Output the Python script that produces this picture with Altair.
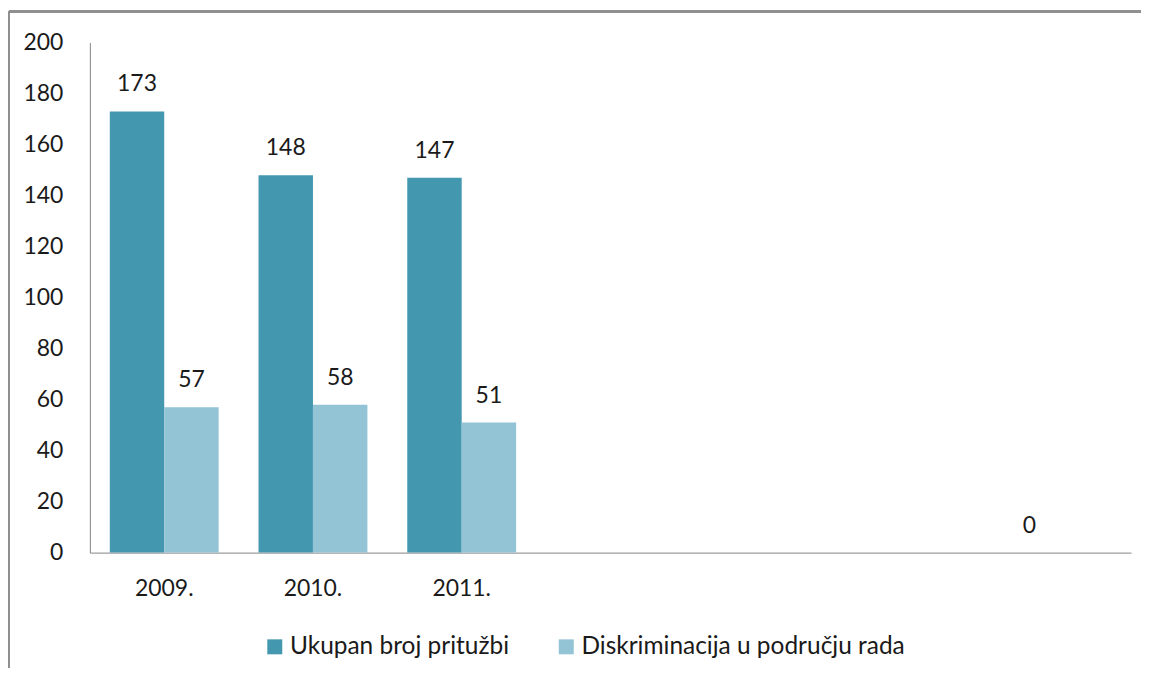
import altair as alt
import pandas as pd

# ---- data ----
categories = ["2009.", "2010.", "2011.", "c4", "c5", "c6", "c7"]
category_labels = ["2009.", "2010.", "2011.", "", "", "", ""]
series_names = ["Ukupan broj pritužbi", "Diskriminacija u području rada"]
ukupan = [173, 148, 147, None, None, None, 0]
diskriminacija = [57, 58, 51, None, None, None, None]
y_ticks = [0, 20, 40, 60, 80, 100, 120, 140, 160, 180, 200]
colors = ["#4398AF", "#93C4D5"]

rows = []
for cat, u, d in zip(categories, ukupan, diskriminacija):
    if u is not None:
        rows.append({"cat": cat, "series": series_names[0], "value": u})
    if d is not None:
        rows.append({"cat": cat, "series": series_names[1], "value": d})
df = pd.DataFrame(rows)

FONT = "Lato"
FS = 23
LFS = 24.5
W, H = 1043, 511

label_map = "{" + ",".join(f"'{c}':'{l}'" for c, l in zip(categories, category_labels)) + "}"
xscale = alt.Scale(domain=categories, paddingInner=0.268, paddingOuter=0.134)

x_enc = alt.X(
    "cat:N",
    sort=categories,
    scale=xscale,
    axis=alt.Axis(
        title=None,
        labelExpr=f"{label_map}[datum.value]",
        labelAngle=0,
        ticks=False,
        tickSize=0,
        labelPadding=25,
        domainColor="#868686",
        labelFont=FONT,
        labelFontSize=FS,
        labelColor="#1a1a1a",
        grid=False,
    ),
)
xoff = alt.XOffset("series:N", scale=alt.Scale(domain=series_names, paddingInner=0, paddingOuter=0))
y_enc = alt.Y(
    "value:Q",
    scale=alt.Scale(domain=[0, 200], nice=False),
    axis=alt.Axis(
        title=None,
        values=y_ticks,
        ticks=False,
        tickSize=0,
        labelPadding=27,
        domainColor="#868686",
        labelFont=FONT,
        labelFontSize=FS,
        labelColor="#1a1a1a",
        grid=False,
    ),
)

bars = alt.Chart(df).mark_bar().encode(
    x=x_enc,
    xOffset=xoff,
    y=y_enc,
    color=alt.Color(
        "series:N",
        scale=alt.Scale(domain=series_names, range=colors),
        legend=alt.Legend(
            title=None,
            orient="none",
            legendX=173,
            legendY=593,
            direction="horizontal",
            symbolType="square",
            symbolSize=225,
            symbolStrokeWidth=0,
            labelFont=FONT,
            labelFontSize=LFS,
            labelColor="#1a1a1a",
            labelOffset=3,
            columnPadding=44,
            labelLimit=600,
        ),
    ),
)

labels = alt.Chart(df).mark_text(
    font=FONT, fontSize=FS, color="#1a1a1a", baseline="alphabetic", dy=-20
).encode(
    x=alt.X("cat:N", sort=categories, scale=xscale),
    xOffset=xoff,
    y=alt.Y("value:Q"),
    text=alt.Text("value:Q"),
)

# outer chart frame (top and left edges, as in the cropped reference)
frame_top = alt.Chart(df).mark_rule(color="#8f8f8f", strokeWidth=2).encode(
    x=alt.value(-81), x2=alt.value(1100), y=alt.value(-31)
)
frame_left = alt.Chart(df).mark_rule(color="#8f8f8f", strokeWidth=2).encode(
    x=alt.value(-81), y=alt.value(-31), y2=alt.value(700)
)

chart = (
    alt.layer(bars, labels, frame_top, frame_left)
    .properties(
        width=W,
        height=H,
        background="white",
        autosize=alt.AutoSizeParams(type="none"),
        padding={"left": 82, "top": 34, "right": 10, "bottom": 115},
    )
    .configure_view(strokeWidth=0, stroke="transparent")
)

chart.save("out.html", embed_options={"renderer": "svg", "actions": False})
